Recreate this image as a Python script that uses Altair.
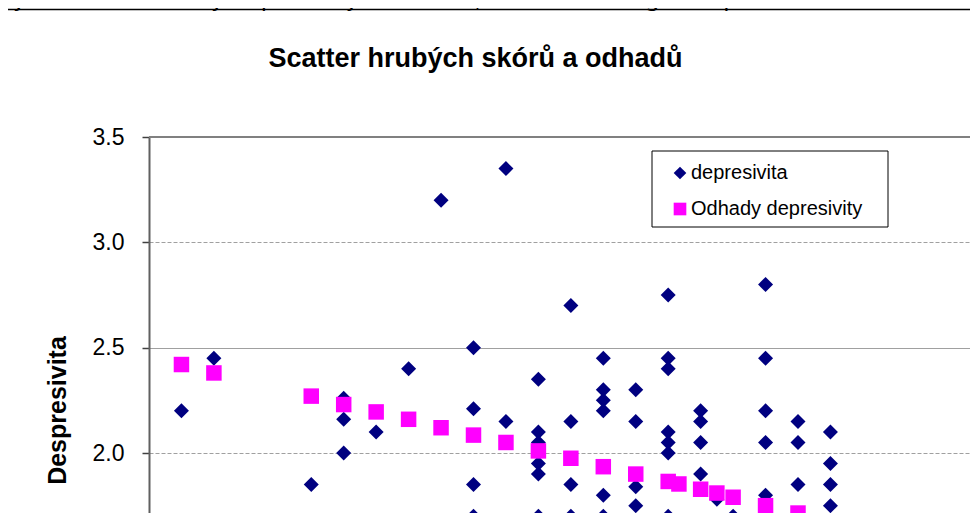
import altair as alt
import pandas as pd

# ---- texts ----
top_text = "Vyneseme i odhady depresivity do skatru, útvoří nám regresní přímku."
title_text = "Scatter hrubých skórů a odhadů"
y_title = "Despresivita"

# ---- series ----
series_names = ["depresivita", "Odhady depresivity"]
series_colors = ["#000080", "#FF00FF"]
series_shapes = ["diamond", "square"]
y_ticks = [2.0, 2.5, 3.0, 3.5]

# raw depression scores (diamonds)
dep_x = [1, 2, 5, 6, 6, 6, 7, 8, 9,
         10, 10, 10, 10, 10,
         11, 11,
         12, 12, 12, 12, 12, 12,
         13, 13, 13, 13,
         14, 14, 14, 14, 14, 14,
         15, 15, 15, 15,
         16, 16, 16, 16, 16, 16, 16, 16,
         17, 17, 17, 17,
         17.5,
         18, 18,
         19, 19, 19, 19, 19, 19,
         20, 20, 20, 20,
         21, 21, 21, 21]
dep_y = [2.20, 2.45, 1.85, 2.26, 2.16, 2.00, 2.10, 2.40, 3.20,
         2.50, 2.21, 1.85, 1.70, 1.65,
         3.35, 2.15,
         2.35, 2.10, 2.05, 1.95, 1.90, 1.70,
         2.70, 2.15, 1.85, 1.70,
         2.45, 2.30, 2.25, 2.20, 1.80, 1.70,
         2.30, 2.15, 1.84, 1.75,
         2.75, 2.45, 2.40, 2.10, 2.05, 2.00, 1.70, 1.65,
         2.20, 2.15, 2.05, 1.90,
         1.78,
         1.70, 1.65,
         2.80, 2.45, 2.20, 2.05, 1.80, 1.65,
         2.15, 2.05, 1.85, 1.70,
         2.10, 1.95, 1.85, 1.75]

# estimated depression (squares)
odh_x = [1, 2, 5, 6, 7, 8, 9, 10, 11, 12, 13, 14, 15, 16, 16.33, 17, 17.5, 18, 19, 20, 21]
odh_y = [2.42, 2.38, 2.27, 2.23, 2.195, 2.16, 2.12, 2.085, 2.05, 2.01, 1.975,
         1.935, 1.90, 1.865, 1.853, 1.828, 1.81, 1.79, 1.75, 1.715, 1.678]

dep = pd.DataFrame({"skor": dep_x, "hodnota": dep_y, "serie": series_names[0]})
odh = pd.DataFrame({"skor": odh_x, "hodnota": odh_y, "serie": series_names[1]})

W, H = 829, 391
FONT = "Liberation Sans"

x_scale = alt.Scale(domain=[0, W / 32.45], nice=False, zero=False)
y_scale = alt.Scale(domain=[3.5 - H / 210.67, 3.5], nice=False, zero=False)

legend = alt.Legend(
    title=None, orient="none", legendX=521, legendY=26,
    labelFont=FONT, labelFontSize=20, labelColor="black", labelOffset=1, labelLimit=400,
    symbolSize=160, symbolStrokeWidth=0, rowPadding=16, padding=0,
)
color = alt.Color("serie:N", scale=alt.Scale(domain=series_names, range=series_colors), legend=legend)
shape = alt.Shape("serie:N", scale=alt.Scale(domain=series_names, range=series_shapes), legend=legend)

y_axis = alt.Axis(
    values=y_ticks, format=".1f", title=None,
    labelFont=FONT, labelFontSize=23, labelColor="black", labelPadding=18,
    tickSize=7, tickColor="#404040", tickWidth=1.5,
    domainColor="#606060", domainWidth=2,
    grid=True, gridColor="#a0a0a0", gridWidth=1,
    gridDash={"condition": {"test": "datum.value == 2.5", "value": []}, "value": [4, 2]},
)

base_x = alt.X("skor:Q", scale=x_scale, axis=None)
base_y = alt.Y("hodnota:Q", scale=y_scale, axis=y_axis)

pts_dep = alt.Chart(dep).mark_point(filled=True, size=225, opacity=1).encode(
    x=base_x, y=base_y, color=color, shape=shape)
pts_odh = alt.Chart(odh).mark_point(filled=True, size=240, opacity=1).encode(
    x=base_x, y=base_y, color=color, shape=shape)

one = pd.DataFrame({"k": [0]})
legend_box = alt.Chart(one).mark_rect(fill="white", stroke="black", strokeWidth=1).encode(
    x=alt.value(503), x2=alt.value(739), y=alt.value(14), y2=alt.value(90))

plot_top = alt.Chart(one).mark_rule(color="#808080", strokeWidth=2).encode(
    x=alt.value(0), x2=alt.value(W + 10), y=alt.value(0))

title = alt.Chart(pd.DataFrame({"t": [title_text]})).mark_text(
    font=FONT, fontSize=27, fontWeight="bold", align="center", baseline="alphabetic", color="black"
).encode(text="t:N", x=alt.value(326.5), y=alt.value(-70.3))

ytitle = alt.Chart(pd.DataFrame({"t": [y_title]})).mark_text(
    font=FONT, fontSize=25, fontWeight="bold", align="center", baseline="middle", angle=270, color="black"
).encode(text="t:N", x=alt.value(-91.5), y=alt.value(273.5))

toptext = alt.Chart(pd.DataFrame({"t": [top_text]})).mark_text(
    font="DejaVu Sans", fontSize=23, align="left", baseline="alphabetic", color="black"
).encode(text="t:N", x=alt.value(-151), y=alt.value(-131))

frame_top = alt.Chart(one).mark_rule(color="black", strokeWidth=1.5).encode(
    x=alt.value(-145), x2=alt.value(W + 20), y=alt.value(-127.5))
frame_left = alt.Chart(one).mark_rule(color="black", strokeWidth=1.5).encode(
    x=alt.value(-145), y=alt.value(-127.5), y2=alt.value(H + 20))

chart = alt.layer(
    legend_box, plot_top, pts_dep, pts_odh, title, ytitle, toptext, frame_top, frame_left
).properties(
    width=W, height=H,
    padding={"left": 141, "top": 129, "right": -8, "bottom": -15},
    autosize=alt.AutoSizeParams(type="none"),
).configure_view(
    strokeWidth=0
)

chart.save("out.html", embed_options={"renderer": "svg", "actions": False})
